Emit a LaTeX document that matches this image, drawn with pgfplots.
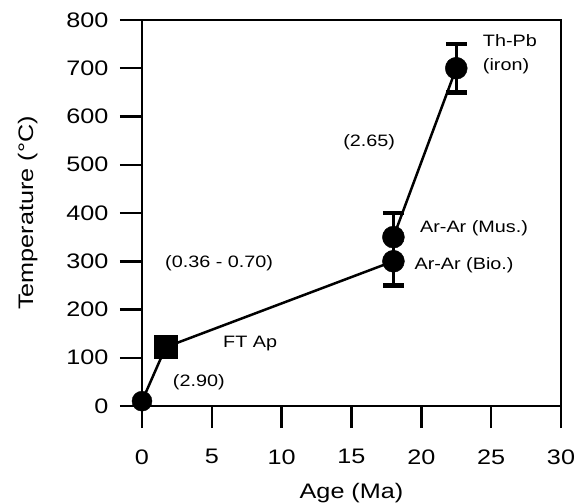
\documentclass[border=0pt]{standalone}
\usepackage{pgfplots}
\pgfplotsset{compat=1.18}
\usepackage{fontspec}
\setmainfont{Liberation Sans}[FakeStretch=1.2]

\begin{document}
\begin{tikzpicture}
\begin{axis}[
 scale only axis, width=419pt, height=386pt,
 xmin=0,xmax=30,ymin=0,ymax=800,
 xtick={0,5,...,30}, ytick={0,100,...,800},
 tick pos=left,
 tick align=outside, major tick length=22pt,
 tick style={line width=2.5pt, black},
 axis line style={line width=1.8pt},
 /pgf/number format/assume math mode=true,
 ticklabel style={font=\fontsize{21}{24}\selectfont},
 yticklabel style={xshift=-8pt},
 xticklabel style={yshift=-18pt},
 xlabel={Age (Ma)}, ylabel={Temperature (°C)},
 label style={font=\fontsize{21}{24}\selectfont},
 xlabel style={yshift=-12pt},
 ylabel style={yshift=22pt},
 clip=false,
]
\coordinate (ll) at (rel axis cs:0,0);
\coordinate (ur) at (rel axis cs:1,1);
\addplot[black, line width=2.5pt] coordinates {(0,10) (1.7,122) (18,300) (18,350) (22.5,700)};
\addplot[only marks, mark=*, mark size=11pt, black,
  error bars/.cd, y dir=both, y explicit,
  error bar style={line width=3pt},
  error mark options={rotate=90, mark size=10.5pt, line width=4.5pt}]
  coordinates {(18,300) +- (0,50) (18,350) +- (0,50) (22.5,700) +- (0,50)};
\addplot[only marks, mark=*, mark size=10pt, black] coordinates {(0,10)};
\addplot[only marks, mark=square*, mark size=11.5pt, black] coordinates {(1.7,122)};
\begin{scope}[every node/.style={font=\fontsize{16.5}{18}\selectfont, anchor=west, inner sep=0pt}]
\node at (axis cs:24.4,758) {Th-Pb};
\node at (axis cs:24.4,705) {(iron)};
\node at (axis cs:14.4,547) {(2.65)};
\node at (axis cs:19.9,369) {Ar-Ar (Mus.)};
\node at (axis cs:19.5,292) {Ar-Ar (Bio.)};
\node at (axis cs:1.65,296) {(0.36 - 0.70)};
\node at (axis cs:5.8,130) {FT Ap};
\node at (axis cs:2.2,50) {(2.90)};
\end{scope}
\end{axis}
\pgfresetboundingbox
\path ([shift={(-142pt,-97pt)}]ll) rectangle ([shift={(18pt,20pt)}]ur);
\end{tikzpicture}
\end{document}
